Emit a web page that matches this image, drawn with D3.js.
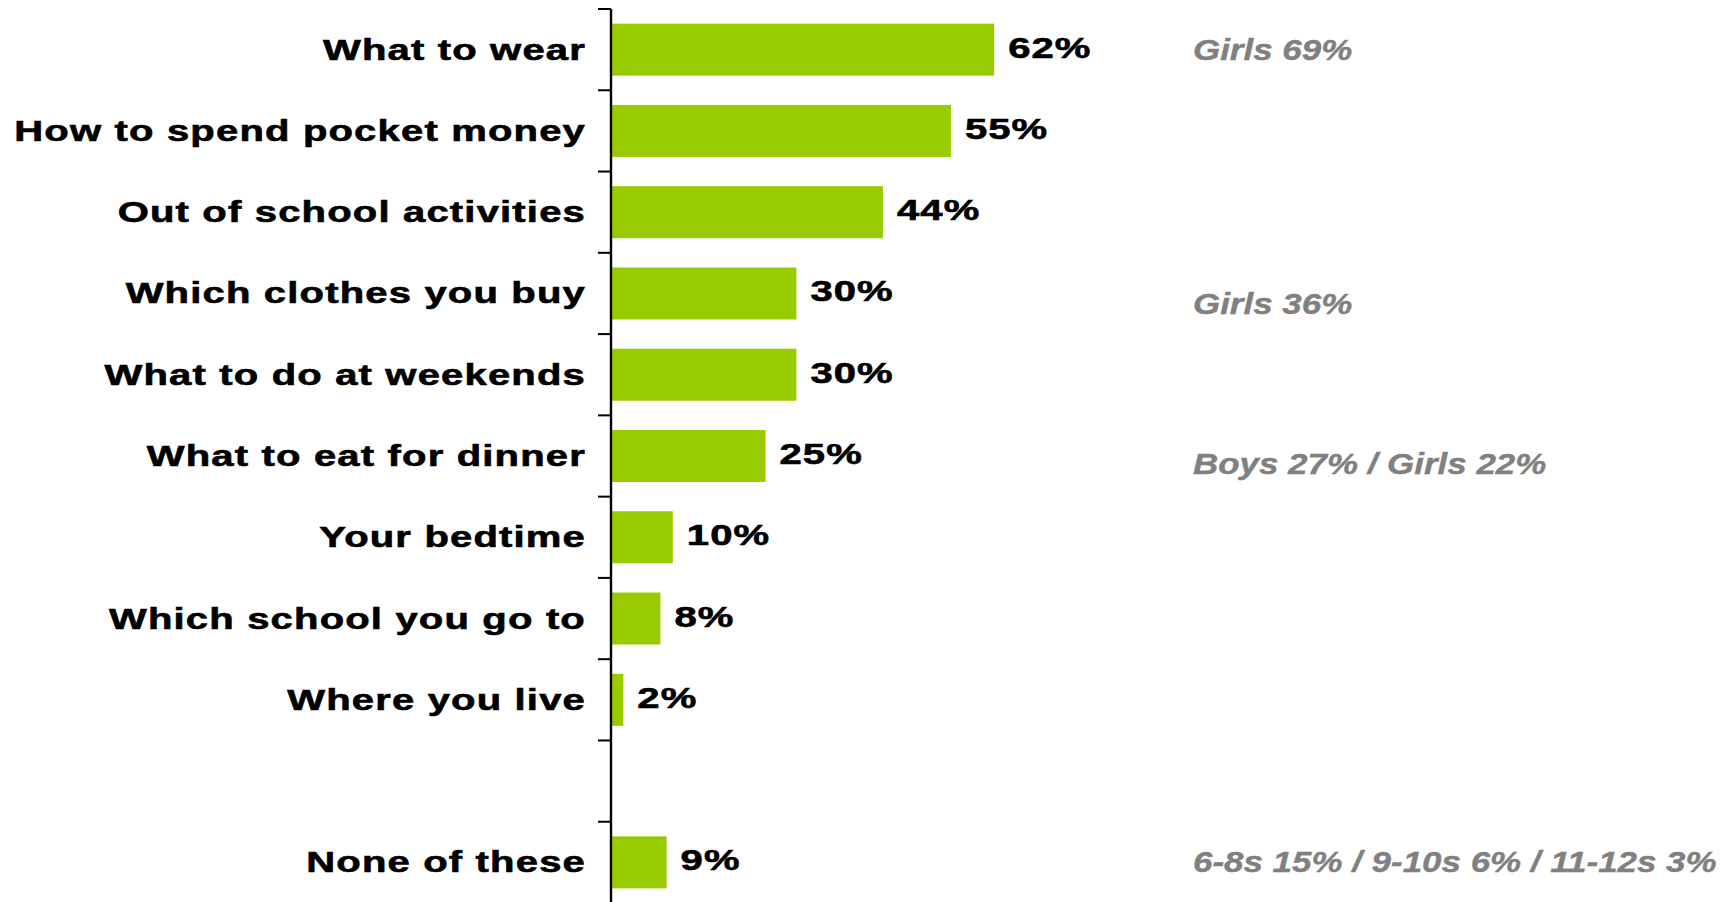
<!DOCTYPE html>
<html>
<head>
<meta charset="utf-8">
<script src="https://cdn.jsdelivr.net/npm/d3@7"></script>
<style>
  html, body { margin: 0; padding: 0; background: #fff; }
  svg { display: block; }
</style>
</head>
<body>
<svg id="chart" width="1730" height="902"></svg>
<script>
// ---- data ----
const categories = [
  "What to wear",
  "How to spend pocket money",
  "Out of school activities",
  "Which clothes you buy",
  "What to do at weekends",
  "What to eat for dinner",
  "Your bedtime",
  "Which school you go to",
  "Where you live",
  "",
  "None of these"
];
const values = [62, 55, 44, 30, 30, 25, 10, 8, 2, null, 9];
const notes = [
  "Girls 69%", "", "", "Girls 36%", "", "Boys 27% / Girls 22%",
  "", "", "", "", "6-8s 15% / 9-10s 6% / 11-12s 3%"
];

// ---- layout ----
const W = 1730, H = 902;
const svg = d3.select("#chart");
svg.append("rect").attr("width", W).attr("height", H).attr("fill", "#fff");

const x = d3.scaleLinear().domain([0, 100]).range([611, 1229]);
const y = d3.scaleBand().domain(categories.map((c, i) => i)).range([9, 903])
  .paddingInner(0.36).paddingOuter(0.18);

const barColor = "#99CC00";
const labelFont = "'Liberation Sans', Arial, sans-serif";
const stretch = 1.38;

// bars
const rows = categories.map((c, i) => ({ i, c, v: values[i], note: notes[i] }));
svg.append("g").selectAll("rect")
  .data(rows.filter(d => d.v != null))
  .join("rect")
  .attr("x", x(0))
  .attr("y", d => y(d.i))
  .attr("width", d => x(d.v) - x(0))
  .attr("height", y.bandwidth())
  .attr("fill", barColor);

// axis (left, ticks at band boundaries)
const step = y.step();
const half = step * y.paddingInner() / 2;
const axisX = 611;
svg.append("line")
  .attr("x1", axisX).attr("x2", axisX)
  .attr("y1", 9).attr("y2", H)
  .attr("stroke", "#000").attr("stroke-width", 2.4);
const tickYs = rows.map(d => y(d.i) - half);
svg.append("g").selectAll("line")
  .data(tickYs)
  .join("line")
  .attr("x1", axisX - 13).attr("x2", axisX)
  .attr("y1", d => d).attr("y2", d => d)
  .attr("stroke", "#000").attr("stroke-width", 2);

// category labels
const catG = svg.append("g").selectAll("g")
  .data(rows.filter(d => d.c !== ""))
  .join("g")
  .attr("transform", d => `translate(${axisX - 25},${y(d.i) + y.bandwidth() / 2 + 10}) scale(${stretch},1)`);
catG.append("text")
  .attr("text-anchor", "end")
  .attr("font-family", labelFont)
  .attr("font-weight", "bold")
  .attr("font-size", 29)
  .attr("letter-spacing", "0.85px")
  .attr("fill", "#000")
  .attr("stroke", "#000")
  .attr("stroke-width", 0.6)
  .text(d => d.c);

// value labels
const valG = svg.append("g").selectAll("g")
  .data(rows.filter(d => d.v != null))
  .join("g")
  .attr("transform", d => `translate(${x(d.v) + 14},${y(d.i) + y.bandwidth() / 2 + 8}) scale(${stretch},1)`);
valG.append("text")
  .attr("text-anchor", "start")
  .attr("font-family", labelFont)
  .attr("font-weight", "bold")
  .attr("font-size", 29)
  .attr("letter-spacing", "0.8px")
  .attr("fill", "#000")
  .attr("stroke", "#000")
  .attr("stroke-width", 0.6)
  .text(d => d.v + "%");

// side notes
const noteDy = { 0: 10, 3: 21, 5: 18, 10: 10 };
const noteG = svg.append("g").selectAll("g")
  .data(rows.filter(d => d.note !== ""))
  .join("g")
  .attr("transform", d => `translate(1193,${y(d.i) + y.bandwidth() / 2 + (noteDy[d.i] || 12)}) scale(1.165,1)`);
noteG.append("text")
  .attr("font-family", labelFont)
  .attr("font-weight", "bold")
  .attr("font-style", "italic")
  .attr("font-size", 30)
  .attr("fill", "#808080")
  .attr("stroke", "#808080")
  .attr("stroke-width", 0.4)
  .text(d => d.note);
</script>
</body>
</html>
